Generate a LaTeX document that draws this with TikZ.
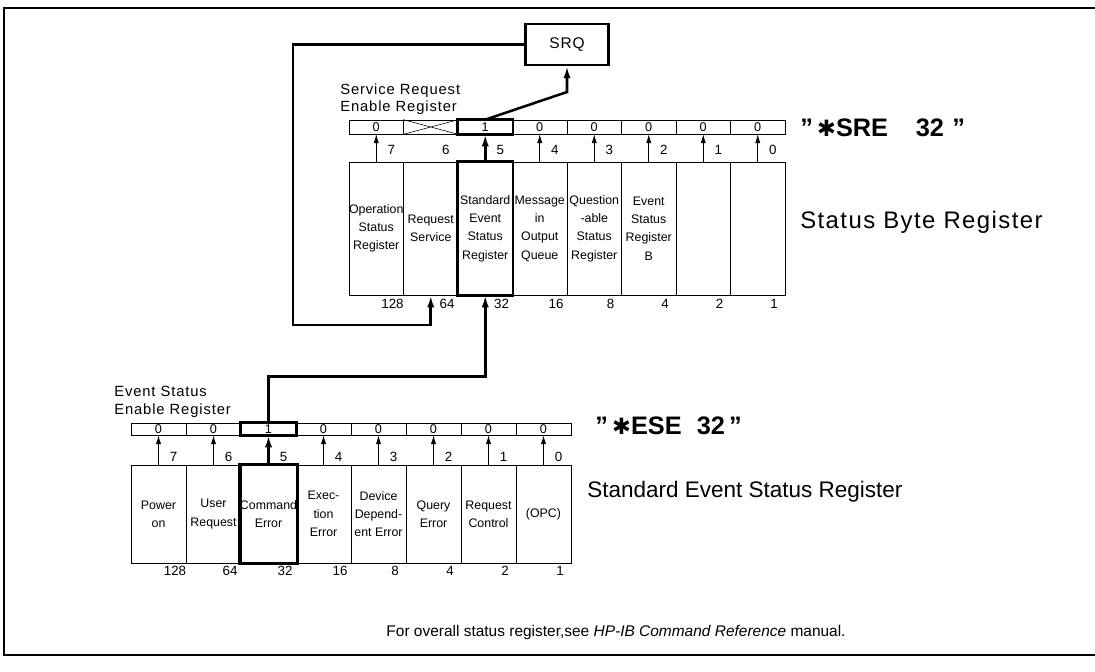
\documentclass[tikz,border=0pt]{standalone}
\usepackage{fontspec}
\setmainfont{Liberation Sans}
\newfontfamily\spacedfont[LetterSpace=6]{Liberation Sans}
\newfontfamily\symfont{DejaVu Sans}
\usetikzlibrary{arrows.meta,calc}

\begin{document}
\begin{tikzpicture}[
  x=0.025cm, y=-0.025cm,
  sbit/.style={draw, line width=0.5pt, minimum width=1.3625cm, minimum height=0.35cm, inner sep=0pt, font=\fontsize{9}{10}\selectfont},
  sbox/.style={draw, line width=0.5pt, minimum width=1.3625cm, minimum height=3.325cm, inner sep=0pt, align=center, font=\fontsize{8.8}{13}\selectfont},
  ebit/.style={sbit, minimum width=1.375cm, minimum height=0.3cm},
  ebox/.style={sbox, minimum width=1.375cm, minimum height=2.45cm},
  bitarrow/.style={-{Latex[length=2.2mm,width=1.3mm]}, line width=0.5pt},
  flow/.style={-{Latex[length=3mm,width=1.8mm]}, line width=1.8pt},
  hilite/.style={line width=1.8pt},
  num/.style={font=\fontsize{9.5}{10}\selectfont, inner sep=1pt},
  caption/.style={font=\spacedfont\fontsize{10.5}{12.5}\selectfont, align=left, anchor=west, inner sep=0pt},
  title/.style={font=\spacedfont\fontsize{17}{19}\selectfont, anchor=west, inner sep=0pt},
  command/.style={font=\bfseries\fontsize{18}{20}\selectfont, anchor=west, inner sep=0pt}
]
\useasboundingbox (0,0) rectangle (1095,671);
% Frame
\draw[line width=1pt] (1095,8) -- (4,8) -- (4,655) -- (1095,655);
% Status byte register with enable register above
\foreach \b/\v/\w/\txt [count=\i from 0] in {7/0/128/{Operation\\Status\\Register}, 6//64/{Request\\Service}, 5/1/32/{Standard\\Event\\Status\\Register}, 4/0/16/{Message\\in\\Output\\Queue}, 3/0/8/{Question\\-able\\Status\\Register}, 2/0/4/{Event\\Status\\Register\\B}, 1/0/2/{}, 0/0/1/{}}
{
  \node[sbit] (sre\b) at ({349+54.5*(\i+0.5)},127) {\v};
  \node[sbox] (sb\b) at ({349+54.5*(\i+0.5)},228.5) {\txt};
  \node[num] at ({349+54.5*(\i+0.5)+15},150) {\b};
  \node[num] at ({349+54.5*(\i+1)-11},304) {\w};
  \ifnum\b=6\else
    \ifnum\b=5
      \draw[flow] (sb\b.north) -- (sre\b.south);
    \else
      \draw[bitarrow] (sb\b.north) -- (sre\b.south);
    \fi
  \fi
}
\draw (sre6.north west) -- (sre6.south east) (sre6.south west) -- (sre6.north east);
\draw[hilite] (sre5.north west) rectangle (sre5.south east);
\draw[hilite] (sb5.north west) rectangle (sb5.south east);
% Standard event status register with enable register above
\foreach \b/\w/\txt [count=\i from 0] in {7/128/{Power\\on}, 6/64/{User\\Request}, 5/32/{Command\\Error}, 4/16/{Exec-\\tion\\Error}, 3/8/{Device\\Depend-\\ent Error}, 2/4/{Query\\Error}, 1/2/{Request\\Control}, 0/1/{(OPC)}}
{
  \node[ebit] (ese\b) at ({131+55*(\i+0.5)},429) {\ifnum\b=5 1\else 0\fi};
  \node[ebox] (eb\b) at ({131+55*(\i+0.5)},514) {\txt};
  \node[num] at ({131+55*(\i+0.5)+15},457) {\b};
  \node[num] at ({131+55*(\i+1)-11},571) {\w};
  \ifnum\b=5
    \draw[flow] (eb\b.north) -- (ese\b.south);
  \else
    \draw[bitarrow] (eb\b.north) -- (ese\b.south);
  \fi
}
\draw[hilite] (ese5.north west) rectangle (ese5.south east);
\draw[hilite] (eb5.north west) rectangle (eb5.south east);
% Service request
\node[draw, line width=1.6pt, minimum width=2.075cm, minimum height=1.025cm, font=\spacedfont\fontsize{11}{12}\selectfont] (srq) at (567,44.5) {SRQ};
\coordinate (srqbend) at (567,92);
\coordinate (loopcorner) at (293,325);
\draw[flow] (sre5.north) -- (srqbend) -- (srq.south);
\draw[flow] (srq.west) -| (loopcorner) -| (sb6.south);
\draw[flow] (ese5.north) -- ++(0,-46) -| (sb5.south);
% Labels
\node[caption] (srelabel) at (340,99) {Service Request\\Enable Register};
\node[command] (srecmd) at (800,128) {"\,{\symfont\fontsize{16}{18}\selectfont ✱}SRE\hspace{1.1em}32\,\,"};
\node[title] (sbtitle) at (800,222) {Status Byte Register};
\node[caption] (eselabel) at (114,402) {Event Status\\Enable Register};
\node[command] (esecmd) at (595,426) {"\,{\symfont\fontsize{16}{18}\selectfont ✱}ESE\hspace{0.6em}32\,"};
\node[title, font=\fontsize{16}{18}\selectfont] (esetitle) at (587,492) {Standard Event Status Register};
\node[font=\fontsize{11}{13}\selectfont] (note) at (616,632) {For overall status register,see \textit{HP-IB Command Reference} manual.};
\end{tikzpicture}
\end{document}
